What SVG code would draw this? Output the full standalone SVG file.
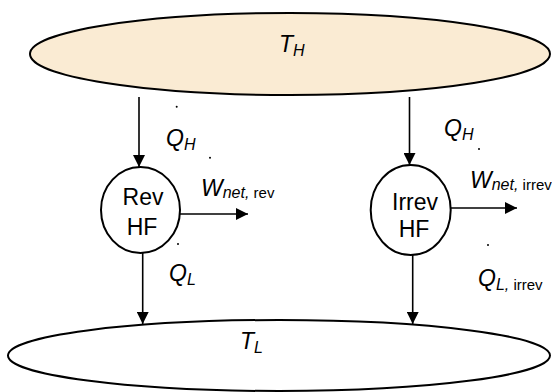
<svg xmlns="http://www.w3.org/2000/svg" width="552" height="392" viewBox="0 0 552 392">
<style>
.ln{stroke:#000;stroke-width:1.6;fill:none}
.res{stroke:#000;stroke-width:2}
.t{font-family:"Liberation Sans",Arial,sans-serif;fill:#000}
.m{font-size:23px;font-style:italic}
.s{font-size:16px;font-style:italic}
.r{font-size:15px;font-style:normal}
.c{font-size:23px;text-anchor:middle}
</style>
<defs>
<marker id="ah" markerUnits="userSpaceOnUse" markerWidth="14" markerHeight="12" refX="12" refY="6" orient="auto">
<path d="M0,0 L12,6 L0,12 Z" fill="#000"/>
</marker>
</defs>
<rect width="552" height="392" fill="#fff"/>
<g id="hot">
<ellipse class="res" cx="290" cy="54" rx="260" ry="41" fill="#FAEBD3"/>
<text class="t m" x="279" y="52">T<tspan class="s" dy="4">H</tspan></text>
</g>
<g id="cold">
<ellipse class="res" cx="279" cy="355.5" rx="271" ry="35.5" fill="#fff"/>
<text class="t m" x="240" y="349">T<tspan class="s" dy="4">L</tspan></text>
</g>
<g id="rev">
<ellipse class="res" cx="140.5" cy="210" rx="39.5" ry="43" fill="#fff"/>
<text class="t c" x="143" y="205">Rev</text>
<text class="t c" x="142" y="235">HF</text>
</g>
<g id="irrev">
<ellipse class="res" cx="410.7" cy="210" rx="40" ry="45" fill="#fff"/>
<text class="t c" x="415" y="210">Irrev</text>
<text class="t c" x="414" y="237">HF</text>
</g>
<g id="connectors">
<line class="ln" x1="139" y1="97" x2="139" y2="167" marker-end="url(#ah)"/>
<line class="ln" x1="409.5" y1="97" x2="409.5" y2="165" marker-end="url(#ah)"/>
<line class="ln" x1="142.7" y1="253" x2="142.7" y2="324" marker-end="url(#ah)"/>
<line class="ln" x1="412.7" y1="255" x2="412.7" y2="324" marker-end="url(#ah)"/>
<line class="ln" x1="180" y1="214" x2="248" y2="214" marker-end="url(#ah)"/>
<line class="ln" x1="450.7" y1="208" x2="517" y2="208" marker-end="url(#ah)"/>
</g>
<g id="labels">
<circle cx="176.7" cy="106.7" r="1" fill="#000"/>
<text class="t m" x="166" y="146">Q<tspan class="s" dy="4">H</tspan></text>
<circle cx="210" cy="157.7" r="1" fill="#000"/>
<text class="t m" x="201" y="196">W<tspan class="s" dy="2">net,</tspan><tspan class="r"> rev</tspan></text>
<circle cx="178" cy="244" r="1" fill="#000"/>
<text class="t m" x="169" y="281">Q<tspan class="s" dy="4">L</tspan></text>
<text class="t m" x="444" y="136">Q<tspan class="s" dy="4">H</tspan></text>
<circle cx="479" cy="149" r="1" fill="#000"/>
<text class="t m" x="470" y="188">W<tspan class="s" dy="2">net,</tspan><tspan class="r"> irrev</tspan></text>
<circle cx="488" cy="245" r="1" fill="#000"/>
<text class="t m" x="478" y="286">Q<tspan class="s" dy="4">L,</tspan><tspan class="r"> irrev</tspan></text>
</g>
</svg>
